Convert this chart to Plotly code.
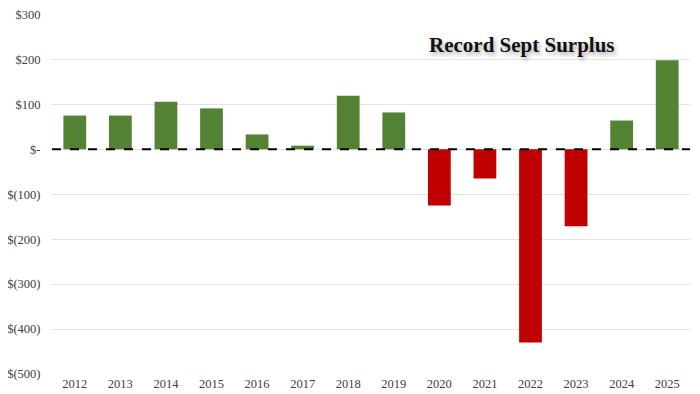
import plotly.graph_objects as go

years = ["2012", "2013", "2014", "2015", "2016", "2017", "2018",
         "2019", "2020", "2021", "2022", "2023", "2024", "2025"]
surplus = [75, 75, 106, 91, 33, 8, 119, 82, -125, -65, -430, -171, 64, 198]
y_tick_vals = [300, 200, 100, 0, -100, -200, -300, -400, -500]
y_tick_text = ["$300", "$200", "$100", "$-", "$(100)", "$(200)", "$(300)", "$(400)", "$(500)"]
title_text = "Record Sept Surplus"

GREEN = "#548235"
RED = "#c00000"
colors = [GREEN if v >= 0 else RED for v in surplus]

fig = go.Figure()
fig.add_trace(go.Bar(
    x=years, y=surplus, marker=dict(color=colors, line=dict(width=0)),
    width=0.5,
))

fig.add_shape(type="line", xref="paper", yref="y", x0=0, x1=1, y0=0, y1=0,
              line=dict(color="black", width=2, dash="dash"), layer="above")

fig.add_annotation(text="<b>" + title_text + "</b>", xref="paper", yref="paper",
                   x=0.737, y=0.915, showarrow=False, xanchor="center", yanchor="middle",
                   font=dict(family="Liberation Serif", size=21, color="#111111",
                             shadow="2px 3px 4px #aaaaaa"))

# page places the figure 8px from the top-left corner, so size it to fit the 700x394 window
fig.update_layout(
    width=692, height=386,
    margin=dict(l=44, r=10, t=6, b=20),
    paper_bgcolor="white", plot_bgcolor="white",
    showlegend=False,
    font=dict(family="Liberation Serif", size=12.5, color="#404040"),
    bargap=0.5,
)
fig.update_xaxes(showgrid=False, showline=False, ticks="", automargin=False,
                 tickfont=dict(size=12.5))
fig.update_yaxes(range=[-500, 301], tickvals=y_tick_vals, ticktext=y_tick_text,
                 showgrid=True, gridcolor="#e3e3e3", gridwidth=1, zeroline=False,
                 showline=False, ticks="outside", ticklen=8, tickcolor="rgba(0,0,0,0)",
                 automargin=False, ticklabeloverflow="allow", tickfont=dict(size=12.5))

fig.write_html("out.html")
